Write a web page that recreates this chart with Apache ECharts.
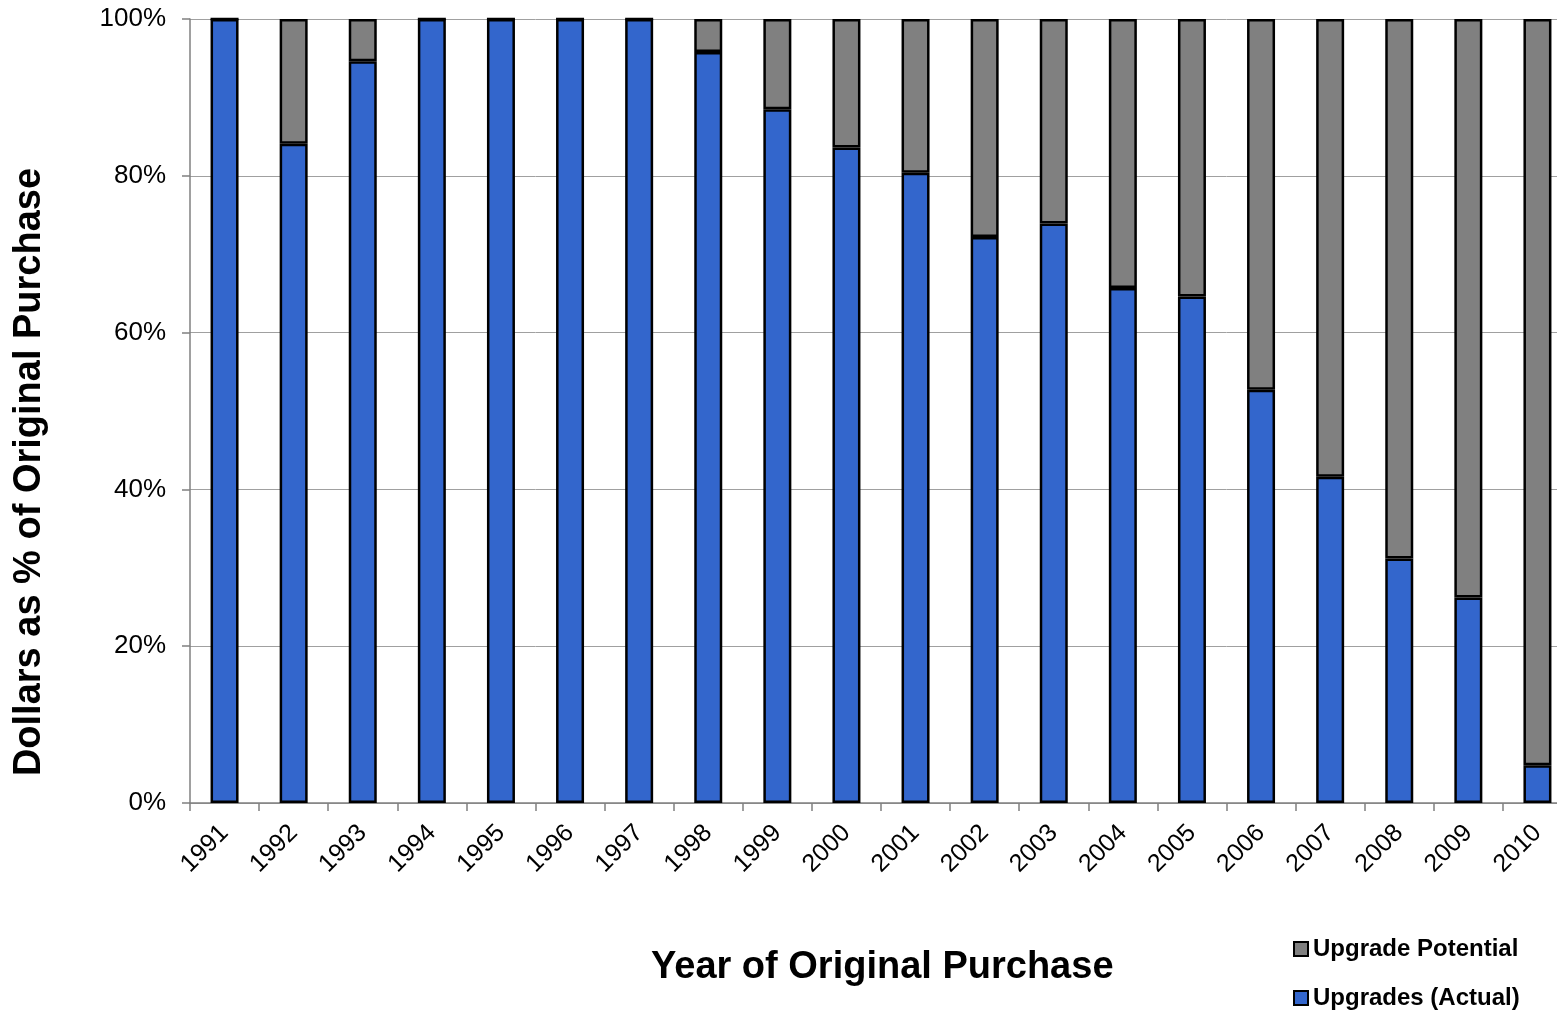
<!DOCTYPE html>
<html>
<head>
<meta charset="utf-8">
<script src="https://cdn.jsdelivr.net/npm/echarts@6/dist/echarts.min.js"></script>
<style>html,body{margin:0;padding:0;background:#fff;overflow:hidden;width:1557px;height:1013px}#c{width:1572px;height:1013px}</style>
</head>
<body>
<div id="c"></div>
<script>
const years = ['1991','1992','1993','1994','1995','1996','1997','1998','1999','2000','2001','2002','2003','2004','2005','2006','2007','2008','2009','2010'];
const upgradesActual = [100, 84.1, 94.6, 100, 100, 100, 100, 95.8, 88.5, 83.6, 80.4, 72.2, 73.9, 65.7, 64.6, 52.7, 41.6, 31.2, 26.2, 4.8];
const upgradePotential = [0, 15.9, 5.4, 0, 0, 0, 0, 4.2, 11.5, 16.4, 19.6, 27.8, 26.1, 34.3, 35.4, 47.3, 58.4, 68.8, 73.8, 95.2];
const yTicks = [0, 20, 40, 60, 80, 100];
const xTitle = 'Year of Original Purchase';
const yTitle = 'Dollars as % of Original Purchase';

const FONT = '"Liberation Sans", Arial, sans-serif';
const legendText = {fontFamily: FONT, fontWeight: 'bold', fontSize: 24, color: '#000'};
const chart = echarts.init(document.getElementById('c'), null, {renderer: 'canvas'});
chart.setOption({
  animation: false,
  textStyle: {fontFamily: FONT},
  grid: {left: 190, top: 19, right: 0, height: 784, containLabel: false},
  legend: [
    {
      orient: 'vertical', left: 1288, top: 932, itemWidth: 14, itemHeight: 14, itemGap: 4,
      icon: 'rect', data: ['Upgrade Potential'], textStyle: legendText,
      itemStyle: {borderColor: '#000', borderWidth: 2}, selectedMode: false
    },
    {
      orient: 'vertical', left: 1288, top: 981, itemWidth: 14, itemHeight: 14, itemGap: 4,
      icon: 'rect', data: ['Upgrades (Actual)'], textStyle: legendText,
      itemStyle: {borderColor: '#000', borderWidth: 2}, selectedMode: false
    }
  ],
  graphic: [
    {type: 'text', left: 651, top: 949, style: {text: xTitle, font: 'bold 38px ' + FONT, fill: '#000'}},
    {type: 'text', x: 30, y: 472, rotation: Math.PI / 2, style: {text: yTitle, font: 'bold 38px ' + FONT, fill: '#000', align: 'center', verticalAlign: 'middle'}}
  ],
  xAxis: {
    type: 'category', data: years,
    axisLine: {lineStyle: {color: '#808080', width: 1.5}},
    axisTick: {show: true, length: 8, lineStyle: {color: '#808080', width: 1.5}},
    axisLabel: {rotate: 45, fontSize: 25, color: '#000', margin: 26, fontFamily: FONT}
  },
  yAxis: {
    type: 'value', min: yTicks[0], max: yTicks[yTicks.length-1], interval: 20,
    axisLine: {show: true, lineStyle: {color: '#808080', width: 1.5}},
    axisTick: {show: true, length: 8, lineStyle: {color: '#808080', width: 1.5}},
    axisLabel: {formatter: '{value}%', fontSize: 26, color: '#000', margin: 24, fontFamily: FONT},
    splitLine: {lineStyle: {color: '#a0a0a0', width: 1}}
  },
  series: [
    {
      name: 'Upgrades (Actual)', type: 'bar', stack: 's', data: upgradesActual, barWidth: 28,
      itemStyle: {color: '#3366cc', borderColor: '#000', borderWidth: 2.5}
    },
    {
      name: 'Upgrade Potential', type: 'bar', stack: 's', data: upgradePotential, barWidth: 28,
      itemStyle: {color: '#808080', borderColor: '#000', borderWidth: 2.5}
    }
  ]
});
</script>
</body>
</html>
